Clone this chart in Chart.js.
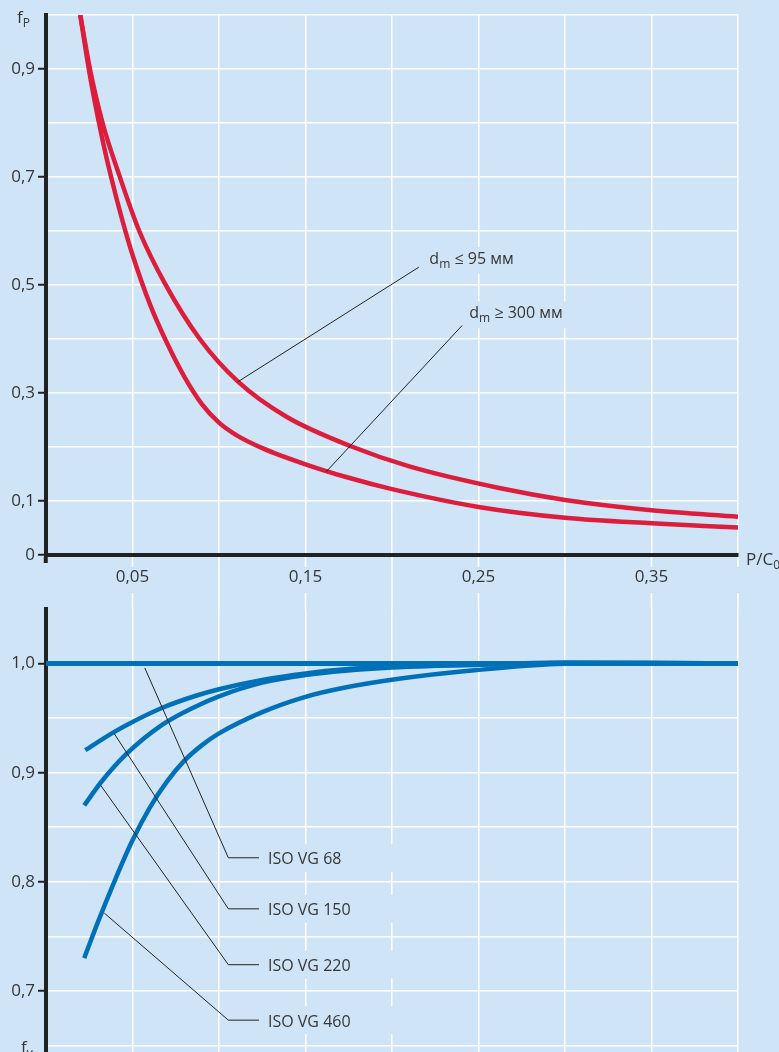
<!DOCTYPE html>
<html><head><meta charset="utf-8">
<script src="https://cdn.jsdelivr.net/npm/chart.js@4"></script>
<style>
html,body{margin:0;padding:0;background:#cfe5f7;overflow:hidden;width:779px;height:1052px;}
#wrap{position:relative;width:779px;height:1052px;}
canvas{position:absolute;left:0;}
#top{top:0}
#bot{top:600px}
</style></head><body>
<div id="wrap"><canvas id="top" width="779" height="600"></canvas><canvas id="bot" width="779" height="452"></canvas></div>
<script>
// ---- data ----
const xTicks = [0, 0.05, 0.1, 0.15, 0.2, 0.25, 0.3, 0.35, 0.4];
const xTickLabels = ['', '0,05', '', '0,15', '', '0,25', '', '0,35', ''];
const topYTicks = [0, 0.1, 0.2, 0.3, 0.4, 0.5, 0.6, 0.7, 0.8, 0.9, 1.0];
const topYTickLabels = ['0', '0,1', '', '0,3', '', '0,5', '', '0,7', '', '0,9', ''];
const botYTicks = [0.65, 0.7, 0.75, 0.8, 0.85, 0.9, 0.95, 1.0];
const botYTickLabels = ['', '0,7', '', '0,8', '', '0,9', '', '1,0'];

const dmUpTo95 = [[0.0198,1.0],[0.0254,0.9],[0.0327,0.8],[0.0427,0.7],[0.0539,0.6],[0.0687,0.503],[0.0889,0.40],[0.111,0.321],[0.139,0.256],[0.1774,0.20],[0.21,0.164],[0.262,0.124],[0.30,0.102],[0.35,0.083],[0.4,0.071]];
const dmFrom300 = [[0.0198,1.0],[0.025,0.895],[0.03,0.81],[0.035,0.735],[0.04,0.67],[0.045,0.61],[0.05,0.556],[0.06,0.465],[0.07,0.392],[0.08,0.33],[0.09,0.28],[0.1,0.245],[0.11,0.222],[0.125,0.198],[0.15,0.168],[0.175,0.143],[0.2,0.122],[0.25,0.089],[0.3,0.069],[0.35,0.0587],[0.4,0.051]];

const vg68 = [[0,1.0],[0.4,1.0]];
const vg150 = [[0.0227,0.9206],[0.0385,0.9365],[0.05,0.9465],[0.0673,0.9595],[0.0866,0.9705],[0.1,0.9765],[0.125,0.985],[0.15,0.991],[0.173,0.9947],[0.2,0.997],[0.25,0.999],[0.3,1.001],[0.35,1.0005],[0.4,1.0]];
const vg220 = [[0.0221,0.870],[0.0317,0.891],[0.0462,0.9167],[0.0673,0.944],[0.0866,0.9607],[0.1,0.970],[0.125,0.9825],[0.15,0.9895],[0.173,0.9934],[0.2,0.9963],[0.25,0.999],[0.3,1.0005],[0.35,1.0005],[0.4,1.0]];
const vg460 = [[0.0221,0.73],[0.03,0.763],[0.04,0.802],[0.05,0.838],[0.06,0.868],[0.07,0.892],[0.08,0.911],[0.09,0.925],[0.1,0.936],[0.125,0.9555],[0.15,0.9695],[0.173,0.978],[0.204,0.986],[0.249,0.994],[0.295,0.9995],[0.35,1.0005],[0.4,1.0]];

// annotations (data coordinates)
const topLabels = [
  {main:'d', sub:'m', rest:' \u2264 95 \u043c\u043c', x:0.2216, y:0.5389, line:[[0.111,0.321],[0.2155,0.533]]},
  {main:'d', sub:'m', rest:' \u2265 300 \u043c\u043c', x:0.2447, y:0.4383, line:[[0.162,0.1543],[0.2405,0.4249]]}
];
const botLabels = [
  {text:'ISO VG 68', line:[[0.0571,0.996],[0.1054,0.822],[0.1231,0.822]]},
  {text:'ISO VG 150', line:[[0.0394,0.9359],[0.1054,0.7752],[0.1231,0.7752]]},
  {text:'ISO VG 220', line:[[0.0317,0.8882],[0.1054,0.724],[0.1231,0.724]]},
  {text:'ISO VG 460', line:[[0.0337,0.7713],[0.1054,0.6732],[0.1231,0.6732]]}
];

// ---- style ----
const BG = '#cfe5f7';
const FONT = '"Open Sans", sans-serif';
const TXT = '#363636';
const RED = '#dc1e3c';
const BLUE = '#0070b8';
const toXY = a => a.map(([x, y]) => ({x, y}));

function subText(ctx, x, y, main, sub, rest, size, subSize) {
  ctx.textBaseline = 'alphabetic';
  ctx.textAlign = 'left';
  ctx.font = size + 'px ' + FONT;
  ctx.fillText(main, x, y);
  let w = ctx.measureText(main).width;
  ctx.font = subSize + 'px ' + FONT;
  ctx.fillText(sub, x + w, y + 4);
  w += ctx.measureText(sub).width;
  if (rest) {
    ctx.font = size + 'px ' + FONT;
    ctx.fillText(rest, x + w, y);
    w += ctx.measureText(rest).width;
  }
  return w;
}

function lineDs(data, color, w) {
  return {data: toXY(data), borderColor: color, borderWidth: w, pointRadius: 0, fill: false,
          tension: 0.4, cubicInterpolationMode: 'monotone', borderCapStyle: 'butt'};
}

const topPlugin = {
  id: 'topDeco',
  beforeDraw(chart) {
    const {ctx, chartArea, scales} = chart;
    ctx.save();
    ctx.strokeStyle = '#ffffff';
    ctx.lineWidth = 1.5;
    xTicks.forEach((v, i) => {
      if (v === 0) return;
      const px = scales.x.getPixelForValue(v);
      const b = chartArea.bottom, H = chart.height;
      ctx.beginPath();
      if (xTickLabels[i] || i === xTicks.length - 1) {
        ctx.moveTo(px, b); ctx.lineTo(px, b + 12);
        ctx.moveTo(px, b + 38); ctx.lineTo(px, H);
      } else {
        ctx.moveTo(px, b); ctx.lineTo(px, H);
      }
      ctx.stroke();
    });
    ctx.restore();
  },
  afterDatasetsDraw(chart) {
    const {ctx, scales} = chart;
    const sx = scales.x, sy = scales.y;
    ctx.save();
    topLabels.forEach(l => {
      const x = sx.getPixelForValue(l.x), y = sy.getPixelForValue(l.y);
      ctx.font = '16px ' + FONT;
      const w = ctx.measureText(l.main + l.sub + l.rest).width;
      ctx.fillStyle = BG;
      ctx.fillRect(x - 3, y - 17, w + 8, 27);
      ctx.strokeStyle = '#222'; ctx.lineWidth = 1;
      ctx.beginPath();
      l.line.forEach(([a, b], k) => {
        const px = sx.getPixelForValue(a), py = sy.getPixelForValue(b);
        k ? ctx.lineTo(px, py) : ctx.moveTo(px, py);
      });
      ctx.stroke();
      ctx.fillStyle = TXT;
      subText(ctx, x, y, l.main, l.sub, l.rest, 16, 12);
    });
    ctx.fillStyle = TXT;
    subText(ctx, 17, 23, 'f', 'P', '', 17, 12);
    subText(ctx, 746, 565, 'P/C', '0', '', 17, 12);
    ctx.restore();
  }
};

const botPlugin = {
  id: 'botDeco',
  beforeDraw(chart) {
    const {ctx, chartArea, scales} = chart;
    ctx.save();
    ctx.strokeStyle = '#ffffff';
    ctx.lineWidth = 1.5;
    xTicks.forEach(v => {
      if (v === 0) return;
      const px = scales.x.getPixelForValue(v);
      ctx.beginPath(); ctx.moveTo(px, 0); ctx.lineTo(px, chartArea.top); ctx.stroke();
    });
    ctx.restore();
  },
  afterDatasetsDraw(chart) {
    const {ctx, scales} = chart;
    const sx = scales.x, sy = scales.y;
    ctx.save();
    botLabels.forEach(l => {
      const last = l.line[l.line.length - 1];
      const ly = sy.getPixelForValue(last[1]);
      const lx = sx.getPixelForValue(last[0]) + 9;
      ctx.fillStyle = BG;
      ctx.fillRect(lx - 5, ly - 14, 138, 28);
      ctx.strokeStyle = '#222'; ctx.lineWidth = 1;
      ctx.beginPath();
      l.line.forEach(([a, b], k) => {
        const px = sx.getPixelForValue(a), py = sy.getPixelForValue(b);
        k ? ctx.lineTo(px, py) : ctx.moveTo(px, py);
      });
      ctx.stroke();
      ctx.fillStyle = TXT;
      ctx.font = '16px ' + FONT;
      ctx.textAlign = 'left'; ctx.textBaseline = 'alphabetic';
      ctx.fillText(l.text, lx, ly + 6.5);
    });
    ctx.fillStyle = TXT;
    subText(ctx, 21, chart.height + 1, 'f', 'v', '', 17, 12);
    ctx.restore();
  }
};

const tickFont = {family: FONT, size: 17};
const noPadY = s => { s.width = 46; s.paddingTop = 0; s.paddingBottom = 0; };

new Chart(document.getElementById('top'), {
  type: 'line',
  data: {datasets: [lineDs(dmUpTo95, RED, 4.5), lineDs(dmFrom300, RED, 4.5)]},
  options: {
    responsive: false, animation: false,
    layout: {padding: {top: 15, right: 41, left: 0, bottom: 0}},
    plugins: {legend: {display: false}, tooltip: {enabled: false}},
    scales: {
      x: {
        type: 'linear', min: 0, max: 0.4,
        afterBuildTicks: s => { s.ticks = xTicks.map(v => ({value: v})); },
        afterFit: s => { s.height = 45; s.paddingLeft = 0; s.paddingRight = 0; },
        ticks: {autoSkip: false, maxRotation: 0, padding: 4, color: TXT, font: tickFont,
                callback: (v, i) => xTickLabels[i]},
        grid: {color: c => c.index === 0 ? 'rgba(0,0,0,0)' : '#ffffff', lineWidth: 1.5,
               tickLength: 8, tickWidth: 4, tickColor: c => c.index === 0 ? '#222' : 'rgba(0,0,0,0)'},
        border: {color: '#222', width: 4}
      },
      y: {
        type: 'linear', min: 0, max: 1.0,
        afterBuildTicks: s => { s.ticks = topYTicks.map(v => ({value: v})); },
        afterFit: noPadY,
        ticks: {autoSkip: false, padding: 3, color: TXT, font: tickFont,
                callback: (v, i) => topYTickLabels[i]},
        grid: {color: c => c.index === 0 ? 'rgba(0,0,0,0)' : '#ffffff', lineWidth: 1.5,
               tickLength: 8, tickWidth: 2, tickColor: c => topYTickLabels[c.index] ? '#222' : 'rgba(0,0,0,0)'},
        border: {color: '#222', width: 4}
      }
    }
  },
  plugins: [topPlugin]
});

new Chart(document.getElementById('bot'), {
  type: 'line',
  data: {datasets: [lineDs(vg68, BLUE, 5), lineDs(vg150, BLUE, 4.5), lineDs(vg220, BLUE, 4.5), lineDs(vg460, BLUE, 4.5)]},
  options: {
    responsive: false, animation: false,
    layout: {padding: {top: 9, right: 41, left: 0, bottom: 0}},
    plugins: {legend: {display: false}, tooltip: {enabled: false}},
    scales: {
      x: {
        type: 'linear', min: 0, max: 0.4,
        afterBuildTicks: s => { s.ticks = xTicks.map(v => ({value: v})); },
        afterFit: s => { s.height = 0; s.paddingLeft = 0; s.paddingRight = 0; },
        ticks: {display: false},
        grid: {color: c => c.index === 0 ? 'rgba(0,0,0,0)' : '#ffffff', lineWidth: 1.5, drawTicks: false, tickLength: 0},
        border: {display: false}
      },
      y: {
        type: 'linear', min: 0.644, max: 1.05,
        afterBuildTicks: s => { s.ticks = botYTicks.map(v => ({value: v})); },
        afterFit: noPadY,
        ticks: {autoSkip: false, padding: 3, color: TXT, font: tickFont,
                callback: (v, i) => botYTickLabels[i]},
        grid: {color: '#ffffff', lineWidth: 1.5,
               tickLength: 8, tickWidth: 2, tickColor: c => botYTickLabels[c.index] ? '#222' : 'rgba(0,0,0,0)'},
        border: {color: '#222', width: 4}
      }
    }
  },
  plugins: [botPlugin]
});
</script>
</body></html>
